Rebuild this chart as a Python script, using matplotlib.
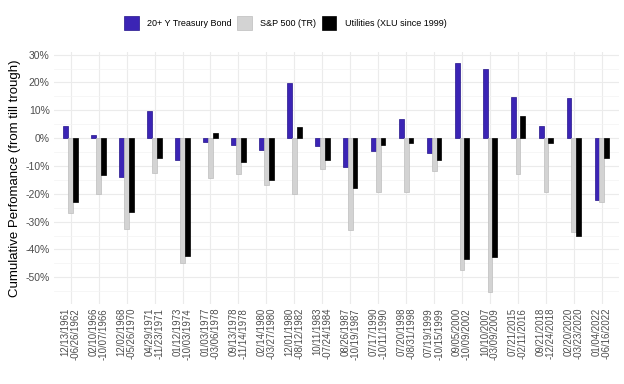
import matplotlib
matplotlib.use("Agg")
import matplotlib.pyplot as plt
from matplotlib.patches import Patch
from matplotlib.ticker import MultipleLocator, FuncFormatter
import numpy as np

plt.rcParams['font.family'] = ['Liberation Sans', 'DejaVu Sans']

# drawdown periods (start - trough)
periods = [
    "12/13/1961\n-06/26/1962", "02/10/1966\n-10/07/1966", "12/02/1968\n-05/26/1970",
    "04/29/1971\n-11/23/1971", "01/12/1973\n-10/03/1974", "01/03/1977\n-03/06/1978",
    "09/13/1978\n-11/14/1978", "02/14/1980\n-03/27/1980", "12/01/1980\n-08/12/1982",
    "10/11/1983\n-07/24/1984", "08/26/1987\n-10/19/1987", "07/17/1990\n-10/11/1990",
    "07/20/1998\n-08/31/1998", "07/19/1999\n-10/15/1999", "09/05/2000\n-10/09/2002",
    "10/10/2007\n-03/09/2009", "07/21/2015\n-02/11/2016", "09/21/2018\n-12/24/2018",
    "02/20/2020\n-03/23/2020", "01/04/2022\n-06/16/2022",
]
treasury = [4.2, 1.1, -14.0, 9.6, -7.9, -1.3, -2.3, -4.3, 19.8, -3.0,
            -10.3, -4.6, 6.7, -5.2, 26.9, 24.8, 14.6, 4.3, 14.3, -22.1]
sp500 = [-27.0, -20.1, -32.6, -12.6, -44.8, -14.5, -12.8, -16.7, -20.1, -11.2,
         -33.0, -19.2, -19.2, -11.9, -47.4, -55.4, -12.8, -19.2, -33.8, -23.0]
utilities = [-23.1, -13.3, -26.6, -7.2, -42.3, 1.8, -8.4, -14.9, 4.0, -8.0,
             -18.0, -2.6, -1.9, -8.0, -43.3, -42.7, 7.9, -1.8, -35.3, -7.1]

series = [
    ("20+ Y Treasury Bond", treasury, "#3b24b5", "#24148a"),
    ("S&P 500 (TR)", sp500, "#d3d3d3", "#bdbdbd"),
    ("Utilities (XLU since 1999)", utilities, "#000000", "#000000"),
]

fig = plt.figure(figsize=(6.24, 3.84), dpi=100)
ax = fig.add_axes([0.0864, 0.209, 0.905, 0.656])

x = np.arange(len(periods))
w = 0.172
for i, (name, vals, fc, ec) in enumerate(series):
    ax.bar(x + (i - 1) * w, vals, width=w, color=fc, edgecolor=ec, linewidth=0.5,
           label=name, zorder=3)

ax.set_xlim(-0.6, len(periods) - 0.4)
ax.set_ylim(-59.5, 31)
ax.yaxis.set_major_locator(MultipleLocator(10))
ax.yaxis.set_minor_locator(MultipleLocator(5))
ax.yaxis.set_major_formatter(FuncFormatter(lambda v, p: f"{v:.0f}%"))
ax.set_xticks(x)
ax.set_xticklabels(periods, rotation=90, fontsize=6.9, color="#4d4d4d",
                   multialignment="right", linespacing=1.0)
ax.tick_params(axis="y", labelsize=7.5, labelcolor="#4d4d4d")
ax.tick_params(which="both", length=0, pad=3)

ax.grid(which="major", color="#ebebeb", linewidth=0.8, zorder=0)
ax.grid(which="minor", axis="y", color="#f3f3f3", linewidth=0.5, zorder=0)
for s in ax.spines.values():
    s.set_visible(False)

ax.set_ylabel("Cumulative Perfomance (from till trough)", fontsize=9.5, labelpad=3)

handles = [Patch(facecolor=fc, edgecolor=ec, linewidth=0.5, label=name)
           for name, _, fc, ec in series]
fig.legend(handles=handles, loc="center", bbox_to_anchor=(0.457, 0.94), ncol=3,
           frameon=False, fontsize=6.5, handlelength=1.65, handleheight=2.0,
           handletextpad=0.9, columnspacing=0.6)

fig.savefig("out.png", dpi=100)
